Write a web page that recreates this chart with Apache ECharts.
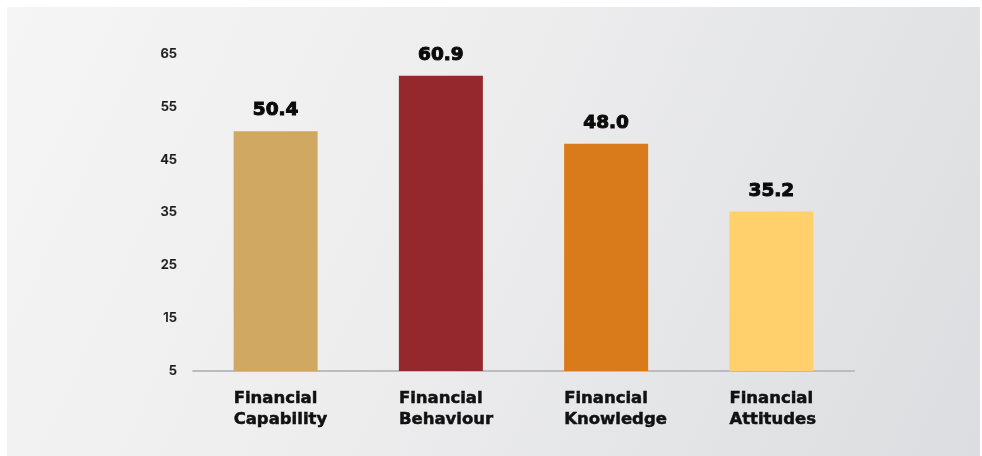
<!DOCTYPE html>
<html>
<head>
<meta charset="utf-8">
<script src="https://cdn.jsdelivr.net/npm/echarts@6/dist/echarts.min.js"></script>
<style>
  html, body { margin: 0; padding: 0; background: #ffffff; }
  #chart { width: 982px; height: 456px; }
</style>
</head>
<body>
<div id="chart"></div>
<script>
// Financial literacy component scores
const categories = ['Financial Capability', 'Financial Behaviour', 'Financial Knowledge', 'Financial Attitudes'];
const scores = [50.4, 60.9, 48.0, 35.2];
const barColors = ['#D1A862', '#95282C', '#DA7B1B', '#FFD06B'];
const yTicks = { min: 5, max: 65, interval: 10 };

const chart = echarts.init(document.getElementById('chart'), null, { renderer: 'canvas' });

chart.setOption({
  backgroundColor: '#ffffff',
  animation: false,
  graphic: [{
    type: 'rect',
    z: -10,
    silent: true,
    shape: { x: 7, y: 7, width: 973, height: 449 },
    style: {
      fill: {
        type: 'linear', x: 0, y: 0, x2: 1, y2: 1,
        colorStops: [
          { offset: 0, color: '#f5f5f5' },
          { offset: 0.45, color: '#ededee' },
          { offset: 1, color: '#dcdde0' }
        ]
      }
    }
  }],
  grid: { left: 193, right: 128, top: 54, bottom: 85 },
  xAxis: {
    type: 'category',
    data: categories,
    axisLine: { show: true, lineStyle: { color: '#bcbcbe', width: 2 } },
    axisTick: { show: false },
    axisLabel: {
      interval: 0,
      margin: 17,
      align: 'center',
      formatter: function (v) {
        return v.split(' ').map(function (w) { return '{t|' + w + '}'; }).join('\n');
      },
      rich: {
        t: {
          width: 84,
          align: 'left',
          fontFamily: 'DejaVu Sans',
          fontWeight: 'bold',
          fontSize: 16.5,
          lineHeight: 21,
          color: '#111111',
          textBorderColor: '#111111',
          textBorderWidth: 0.5
        }
      }
    }
  },
  yAxis: {
    type: 'value',
    min: yTicks.min,
    max: yTicks.max,
    interval: yTicks.interval,
    axisLine: { show: false },
    axisTick: { show: false },
    splitLine: { show: false },
    axisLabel: {
      margin: 16,
      fontFamily: 'Inter',
      fontWeight: 600,
      fontSize: 13,
      color: '#1a1a1a',
      textBorderColor: '#1a1a1a',
      textBorderWidth: 0.2
    }
  },
  series: [{
    type: 'bar',
    data: scores.map(function (v, i) {
      return { value: v, itemStyle: { color: barColors[i] } };
    }),
    barWidth: 84,
    label: {
      show: true,
      position: 'top',
      distance: 11,
      formatter: function (p) { return p.value.toFixed(1); },
      fontFamily: 'DejaVu Sans',
      fontWeight: 'bold',
      fontSize: 18.5,
      color: '#0a0a0a',
      textBorderColor: '#0a0a0a',
      textBorderWidth: 1
    }
  }]
});
</script>
</body>
</html>
